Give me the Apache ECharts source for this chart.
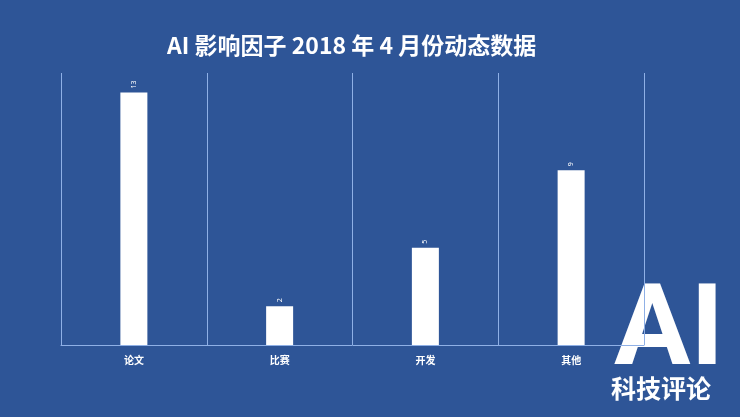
<!DOCTYPE html>
<html><head><meta charset="utf-8">
<script src="https://cdn.jsdelivr.net/npm/echarts@6/dist/echarts.min.js"></script>
<style>html,body{margin:0;padding:0;background:#2e5597;}#c{width:740px;height:417px;}</style>
</head><body><div id="c"></div>
<script>
const categories = ['论文', '比赛', '开发', '其他'];
const values = [13, 2, 5, 9];
const titleText = 'AI 影响因子 2018 年 4 月份动态数据';

const chart = echarts.init(document.getElementById('c'));
chart.setOption({
  backgroundColor: '#2e5597',
  animation: false,
  title: {
    text: titleText,
    left: 162, top: 29,
    textStyle: { color: '#ffffff', fontSize: 23, fontWeight: 'bold', fontFamily: 'Noto Sans CJK SC' }
  },
  grid: { left: 61, right: 96, top: 73, bottom: 72 },
  xAxis: {
    type: 'category',
    data: categories,
    axisLine: { show: true, lineStyle: { color: '#8fb0e6', width: 1 } },
    axisTick: { show: false },
    splitLine: { show: true, interval: 0, lineStyle: { color: '#8fb0e6', width: 1 } },
    axisLabel: { color: '#ffffff', fontSize: 10, fontWeight: 'bold', margin: 10, fontFamily: 'Noto Sans CJK SC' }
  },
  yAxis: {
    type: 'value', min: 0, max: 14, show: false,
    splitLine: { show: false }
  },
  series: [{
    type: 'bar',
    data: values,
    barWidth: 27,
    itemStyle: { color: '#ffffff' },
    label: {
      show: true, position: 'top', rotate: 90, align: 'left', verticalAlign: 'middle',
      distance: 4, color: '#ffffff', fontSize: 7, fontFamily: 'Noto Sans'
    }
  }],
  graphic: [
    { type: 'text', left: 614, top: 278, style: { text: 'AI', fill: '#ffffff', font: 'bold 114px Roboto' } },
    { type: 'text', left: 611, top: 376, style: { text: '科技评论', fill: '#ffffff', font: 'bold 25px "Noto Sans CJK SC"' } }
  ]
});
</script></body></html>
